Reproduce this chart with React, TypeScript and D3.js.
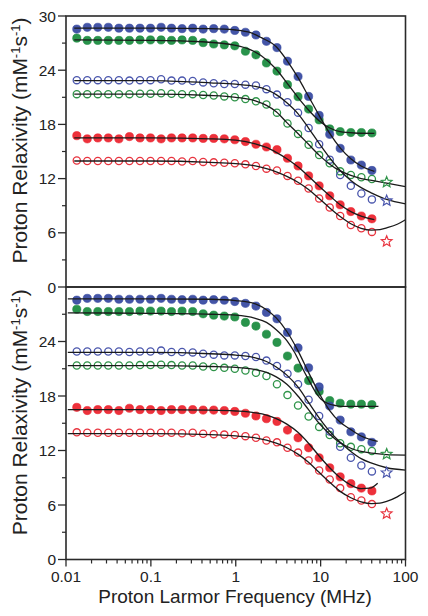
import React from "react";
import * as d3 from "d3";

// Measured frequencies (MHz) of the field-cycling points
const FREQ = [0.0134, 0.0178, 0.0237, 0.0315, 0.042, 0.0559, 0.0744, 0.099, 0.132, 0.175, 0.233, 0.311, 0.413, 0.55, 0.733, 0.975, 1.3, 1.73, 2.3, 3.06, 4.07, 5.42, 7.22, 9.61, 12.8, 17.0, 22.7, 30.2, 40.2];

// Relaxivity data (mM^-1 s^-1)
const BLUE_FILLED = [28.55, 28.75, 28.75, 28.75, 28.65, 28.65, 28.65, 28.65, 28.75, 28.65, 28.6, 28.65, 28.55, 28.6, 28.55, 28.4, 28.2, 27.9, 27.2, 26.5, 25.0, 23.3, 21.1, 19.0, 16.9, 15.35, 14.06, 13.5, 12.9];
const GREEN_FILLED = [27.55, 27.3, 27.3, 27.3, 27.3, 27.3, 27.35, 27.35, 27.35, 27.3, 27.35, 27.3, 27.05, 26.9, 26.8, 26.7, 26.1, 25.7, 24.8, 23.9, 22.4, 21.07, 19.7, 18.5, 17.5, 17.2, 17.1, 17.1, 17.05];
const BLUE_OPEN = [22.9, 22.9, 22.9, 22.9, 22.9, 22.85, 22.9, 22.9, 23.0, 22.85, 22.85, 22.8, 22.65, 22.55, 22.47, 22.47, 22.4, 22.3, 21.9, 21.3, 20.45, 19.3, 17.6, 15.8, 14.1, 12.4, 11.2, 10.35, 9.7];
const GREEN_OPEN = [21.35, 21.35, 21.35, 21.35, 21.35, 21.35, 21.4, 21.4, 21.45, 21.4, 21.35, 21.35, 21.25, 21.2, 21.1, 21.0, 20.8, 20.55, 20.2, 19.3, 18.1, 16.95, 15.75, 14.6, 13.7, 12.8, 12.4, 12.15, 11.95];
const RED_FILLED = [16.75, 16.4, 16.5, 16.5, 16.4, 16.65, 16.5, 16.5, 16.4, 16.5, 16.5, 16.5, 16.45, 16.45, 16.4, 16.3, 16.1, 15.8, 15.5, 15.2, 14.25, 13.4, 12.3, 11.2, 10.1, 9.1, 8.35, 7.86, 7.55];
const RED_OPEN = [14.0, 13.95, 13.95, 13.95, 13.95, 13.95, 13.95, 13.95, 13.95, 13.95, 13.9, 13.95, 13.85, 13.8, 13.75, 13.7, 13.58, 13.4, 13.1, 12.9, 12.3, 11.77, 10.9, 9.8, 8.8, 7.86, 6.86, 6.5, 6.1];

// 60 MHz points (stars)
const STAR_FREQ = 60;
const STAR_GREEN = 11.6;
const STAR_BLUE = 9.55;
const STAR_RED = 5.05;

// Fit curves: [frequency, relaxivity]
const TOP_FIT_BF = [[0.0125, 28.65], [0.1, 28.65], [0.5, 28.6], [1, 28.45], [1.5, 28.15], [2, 27.6], [3, 26.6], [4, 25.1], [5.4, 23.2], [7.2, 21.1], [9.6, 19.0], [12.8, 17.0], [17, 15.4], [22.7, 14.2], [30, 13.4], [43, 12.8]];
const TOP_FIT_GF = [[0.0125, 27.35], [0.1, 27.3], [0.4, 27.15], [1, 26.75], [1.5, 26.25], [2, 25.6], [3, 24.1], [4, 22.6], [5.4, 21.0], [7.2, 19.6], [9.6, 18.4], [12.8, 17.6], [17, 17.2], [25, 17.05], [43, 17.0]];
const TOP_FIT_BO = [[0.0125, 22.85], [0.1, 22.85], [0.5, 22.6], [1, 22.45], [1.7, 22.2], [2.3, 21.85], [3, 21.3], [4, 20.4], [5.4, 19.2], [7.2, 17.6], [9.6, 15.9], [12.8, 14.3], [17, 12.9], [22.7, 11.8], [30, 11.0], [40, 10.4], [60, 9.7], [100, 9.2]];
const TOP_FIT_GO = [[0.0125, 21.35], [0.1, 21.35], [0.5, 21.2], [1, 21.0], [1.7, 20.6], [2.3, 20.1], [3, 19.4], [4, 18.2], [5.4, 17.0], [7.2, 15.8], [9.6, 14.6], [12.8, 13.6], [17, 12.85], [22.7, 12.35], [30, 12.0], [40, 11.8], [60, 11.5], [100, 11.1]];
const TOP_FIT_RF = [[0.0125, 16.5], [0.1, 16.5], [0.5, 16.4], [1, 16.25], [1.7, 15.85], [2.3, 15.45], [3, 14.9], [4, 14.2], [5.4, 13.3], [7.2, 12.25], [9.6, 11.15], [12.8, 10.1], [17, 9.1], [22.7, 8.35], [30, 7.85], [43, 7.45]];
const TOP_FIT_RO = [[0.0125, 13.95], [0.1, 13.95], [0.5, 13.8], [1, 13.65], [1.7, 13.4], [2.3, 13.1], [3, 12.75], [4, 12.25], [5.4, 11.6], [7.2, 10.8], [9.6, 9.8], [12.8, 8.75], [17, 7.8], [22.7, 7.0], [30, 6.5], [40, 6.3], [50, 6.35], [60, 6.55], [80, 6.95], [100, 7.45]];

const BOT_FIT_BF = [[0.0105, 28.7], [0.1, 28.7], [0.5, 28.65], [1, 28.5], [1.7, 28.15], [2.3, 27.5], [3, 26.6], [4, 25.1], [5.4, 23.0], [7.2, 20.6], [9.6, 18.3], [12.8, 16.4], [17, 15.1], [22.7, 14.3], [30, 13.6], [47, 13.0]];
const BOT_FIT_GF = [[0.0105, 27.15], [0.1, 27.1], [0.5, 27.0], [1, 26.9], [1.7, 26.55], [2.3, 26.1], [3, 25.3], [4, 24.1], [5, 22.7], [6, 21.2], [7.2, 19.8], [8.5, 18.6], [10, 17.7], [12, 17.2], [15, 16.95], [20, 16.85], [48, 16.85]];
const BOT_FIT_BO = [[0.0105, 22.8], [0.1, 22.8], [0.5, 22.65], [1, 22.5], [1.7, 22.2], [2.3, 21.8], [3, 21.2], [4, 20.3], [5.4, 19.0], [7.2, 17.3], [9.6, 15.6], [12.8, 14.1], [17, 12.9], [22.7, 11.9], [30, 11.1], [40, 10.6], [60, 10.1], [100, 9.85]];
const BOT_FIT_GO = [[0.0105, 21.35], [0.1, 21.35], [0.5, 21.25], [1, 21.15], [1.7, 20.9], [2.3, 20.6], [3, 20.1], [4, 19.3], [5.4, 18.0], [7.2, 16.5], [9.6, 15.0], [12.8, 13.8], [17, 12.85], [22.7, 12.25], [30, 11.9], [40, 11.7], [60, 11.55], [100, 11.5]];
const BOT_FIT_RF = [[0.0105, 16.5], [0.1, 16.5], [0.5, 16.45], [1, 16.35], [1.7, 16.15], [2.3, 15.9], [3, 15.5], [4, 14.9], [5.4, 14.0], [7.2, 12.8], [9.6, 11.4], [12.8, 10.1], [17, 9.0], [22.7, 8.2], [30, 7.8], [38, 7.85], [47, 8.4]];
const BOT_FIT_RO = [[0.0105, 13.85], [0.1, 13.85], [0.5, 13.75], [1, 13.6], [1.7, 13.4], [2.3, 13.15], [3, 12.8], [4, 12.3], [5.4, 11.6], [7.2, 10.7], [9.6, 9.6], [12.8, 8.5], [17, 7.5], [22.7, 6.8], [30, 6.35], [40, 6.15], [50, 6.2], [60, 6.4], [80, 6.9], [100, 7.45]];

const X_TICKS = [0.01, 0.1, 1, 10, 100];
const X_TICK_LABELS = ["0.01", "0.1", "1", "10", "100"];
const Y_TICKS_TOP = [0, 6, 12, 18, 24, 30];
const Y_TICKS_BOT = [0, 6, 12, 18, 24];
const Y_MINOR = [3, 9, 15, 21, 27];

const C_BLUE = "#34479f";
const C_GREEN = "#178a3c";
const C_RED = "#ec1f2a";
const C_BLUE_O = "#4b57ad";
const C_GREEN_O = "#2f9449";
const C_RED_O = "#e8343f";

const FONT = "'Liberation Sans', Arial, Helvetica, sans-serif";

const L = 66, R = 405.5;
const x = d3.scaleLog().domain([0.01, 100]).range([L, R]);

function starPath(cx: number, cy: number, ro: number, ri: number) {
  const pts: [number, number][] = [];
  for (let k = 0; k < 10; k++) {
    const a = -Math.PI / 2 + (k * Math.PI) / 5;
    const r = k % 2 === 0 ? ro : ri;
    pts.push([cx + r * Math.cos(a), cy + r * Math.sin(a)]);
  }
  return "M" + pts.map((p) => p[0].toFixed(2) + "," + p[1].toFixed(2)).join("L") + "Z";
}

type Series = { vals: number[]; color: string; filled: boolean };
const SERIES: Series[] = [
  { vals: RED_OPEN, color: C_RED_O, filled: false },
  { vals: RED_FILLED, color: C_RED, filled: true },
  { vals: GREEN_OPEN, color: C_GREEN_O, filled: false },
  { vals: BLUE_OPEN, color: C_BLUE_O, filled: false },
  { vals: GREEN_FILLED, color: C_GREEN, filled: true },
  { vals: BLUE_FILLED, color: C_BLUE, filled: true },
];

function Panel({ top, bottom, fits, yTicks, showX }: { top: number; bottom: number; fits: number[][][]; yTicks: number[]; showX: boolean }) {
  const y = d3.scaleLinear().domain([0, 30]).range([bottom, top]);
  const line = d3
    .line<number[]>()
    .x((d) => x(d[0]))
    .y((d) => y(d[1]))
    .curve(d3.curveMonotoneX);
  const minors: number[] = [];
  for (let e = -2; e < 2; e++) for (let m = 2; m <= 9; m++) minors.push(m * Math.pow(10, e));
  return (
    <g>
      {SERIES.map((s, si) =>
        s.vals.map((v, i) => (
          <circle
            key={si + "-" + i}
            cx={x(FREQ[i])}
            cy={y(v)}
            r={s.filled ? 4.1 : 3.6}
            fill={s.filled ? s.color : "none"}
            fillOpacity={0.92}
            stroke={s.color}
            strokeWidth={s.filled ? 0.6 : 1.3}
          />
        ))
      )}
      {fits.map((f, k) => (
        <path key={"fit" + k} d={line(f) || ""} fill="none" stroke="#1a1a1a" strokeWidth={1.3} />
      ))}
      <path d={starPath(x(STAR_FREQ), y(STAR_GREEN), 5.6, 2.5)} fill="none" stroke={C_GREEN_O} strokeWidth={1.2} />
      <path d={starPath(x(STAR_FREQ), y(STAR_BLUE), 5.6, 2.5)} fill="none" stroke={C_BLUE_O} strokeWidth={1.2} />
      <path d={starPath(x(STAR_FREQ), y(STAR_RED), 5.6, 2.5)} fill="none" stroke={C_RED_O} strokeWidth={1.2} />
      <rect x={L} y={top} width={R - L} height={bottom - top} fill="none" stroke="#2a2a2a" strokeWidth={1.6} />
      {Y_MINOR.map((t) => (
        <line key={"ym" + t} x1={L - 4} x2={L} y1={y(t)} y2={y(t)} stroke="#2a2a2a" strokeWidth={1.2} />
      ))}
      {yTicks.map((t) => (
        <g key={"yt" + t}>
          <line x1={L - 8} x2={L} y1={y(t)} y2={y(t)} stroke="#2a2a2a" strokeWidth={1.3} />
          <text x={L - 10} y={y(t)} dy="0.36em" textAnchor="end" fontSize={15.5} fontFamily={FONT} fill="#222">
            {t}
          </text>
        </g>
      ))}
      {showX && (
        <g>
          {minors.map((m) => (
            <line key={"xm" + m} x1={x(m)} x2={x(m)} y1={bottom} y2={bottom + 4} stroke="#2a2a2a" strokeWidth={1.2} />
          ))}
          {X_TICKS.map((t, i) => (
            <g key={"xt" + t}>
              <line x1={x(t)} x2={x(t)} y1={bottom} y2={bottom + 7} stroke="#2a2a2a" strokeWidth={1.3} />
              <text x={x(t)} y={bottom + 22} textAnchor="middle" fontSize={15.5} fontFamily={FONT} fill="#222">
                {X_TICK_LABELS[i]}
              </text>
            </g>
          ))}
        </g>
      )}
      <text
        transform={`translate(27, ${(top + bottom) / 2 - 11}) rotate(-90)`}
        textAnchor="middle"
        fontSize={21}
        fontFamily={FONT}
        fill="#222"
      >
        Proton Relaxivity (mM
        <tspan fontSize={13} dy={-7.5}>-1</tspan>
        <tspan dy={7.5}>s</tspan>
        <tspan fontSize={13} dy={-7.5}>-1</tspan>
        <tspan dy={7.5}>)</tspan>
      </text>
    </g>
  );
}

export default function App() {
  return (
    <svg width={428} height={616} style={{ position: "absolute", left: 0, top: 0, background: "#fff" }}>
      <rect x={0} y={0} width={428} height={616} fill="#fff" />
      <Panel top={16} bottom={287} fits={[TOP_FIT_RO, TOP_FIT_RF, TOP_FIT_GO, TOP_FIT_BO, TOP_FIT_GF, TOP_FIT_BF]} yTicks={Y_TICKS_TOP} showX={false} />
      <Panel top={287} bottom={559.5} fits={[BOT_FIT_RO, BOT_FIT_RF, BOT_FIT_GO, BOT_FIT_BO, BOT_FIT_GF, BOT_FIT_BF]} yTicks={Y_TICKS_BOT} showX={true} />
      <text x={235} y={603} textAnchor="middle" fontSize={19} fontFamily={FONT} fill="#222">
        Proton Larmor Frequency (MHz)
      </text>
    </svg>
  );
}
